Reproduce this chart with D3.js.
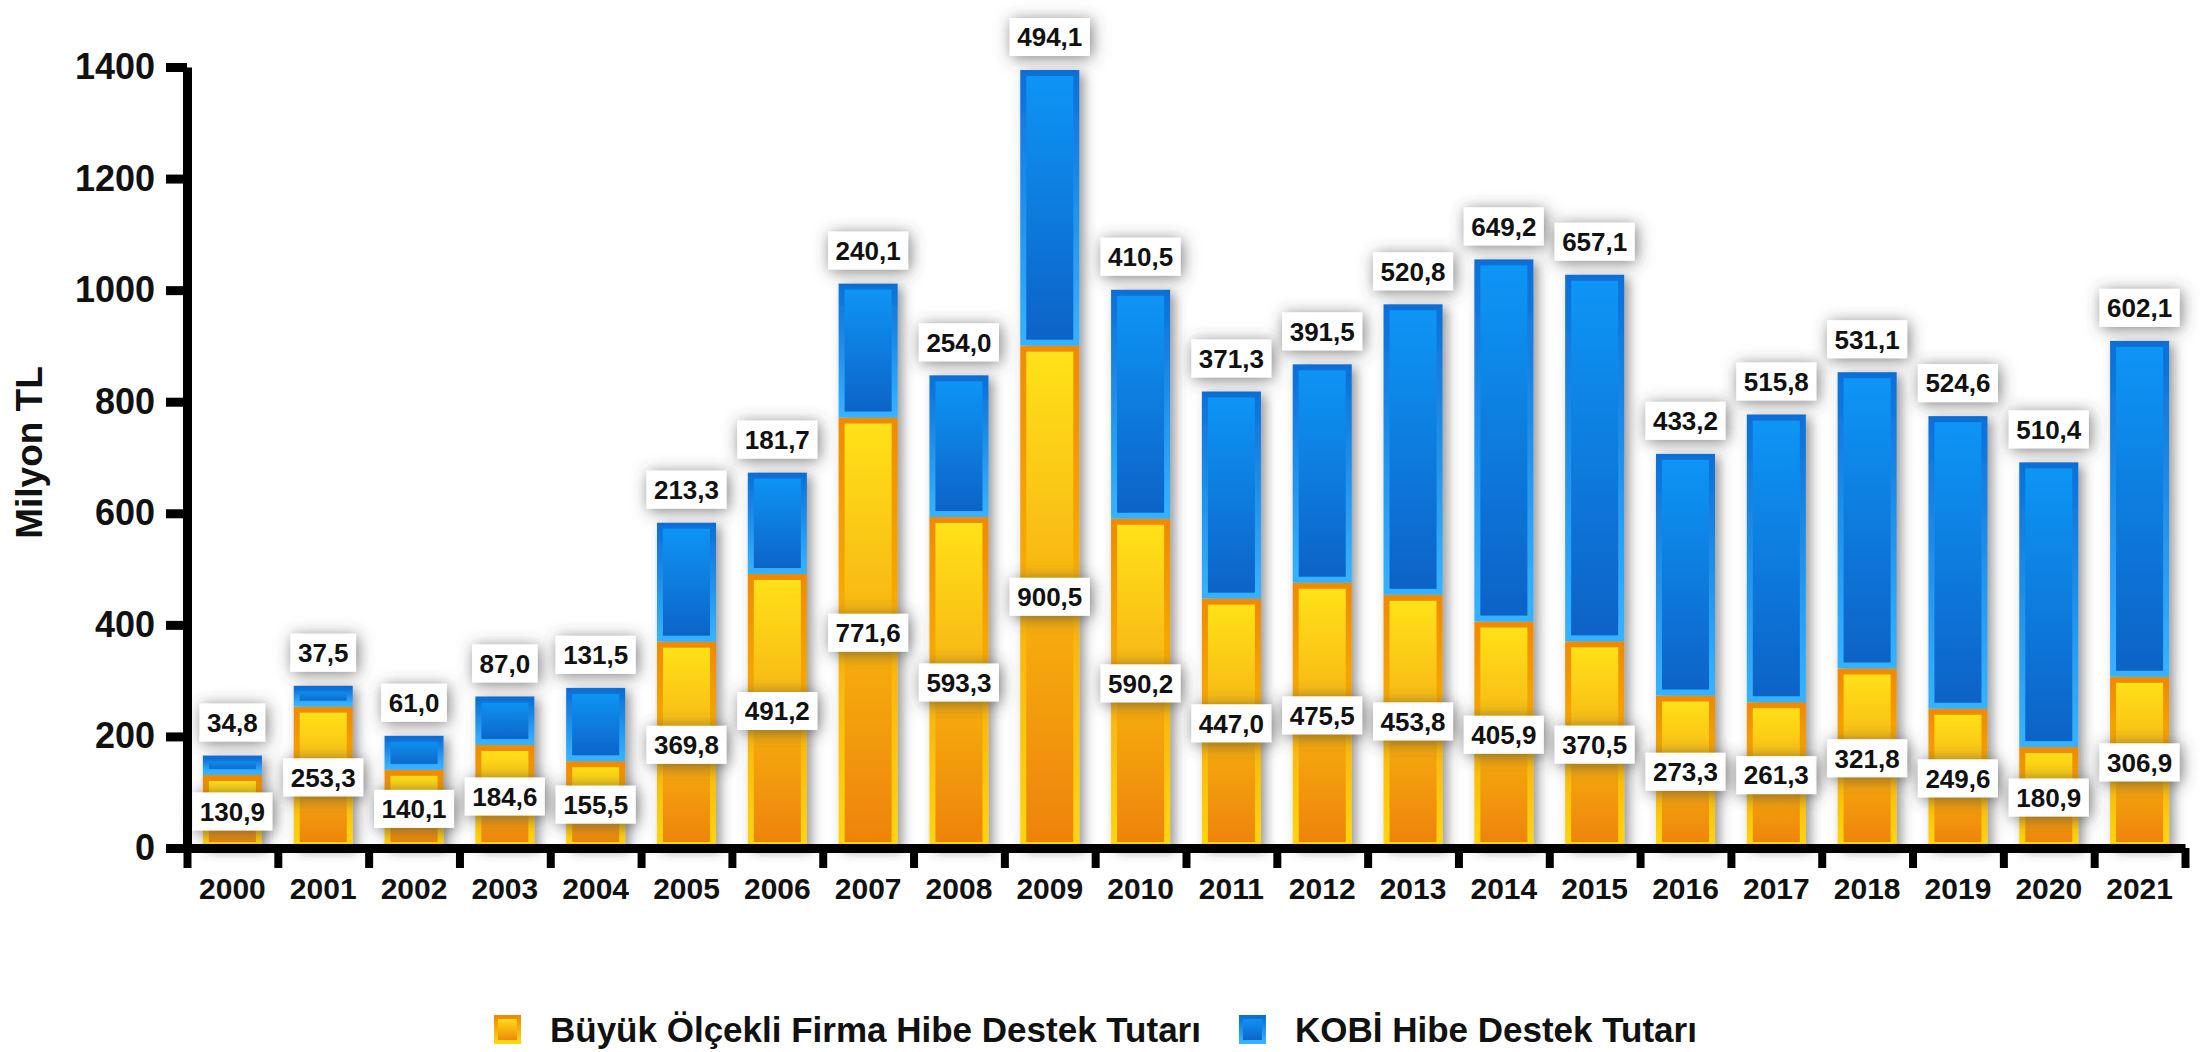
<!DOCTYPE html>
<html>
<head>
<meta charset="utf-8">
<script src="https://cdn.jsdelivr.net/npm/d3@7"></script>
<style>
  body { margin: 0; background: #fff; }
  svg { display: block; }
  text { font-family: "Liberation Sans", Arial, sans-serif; font-weight: bold; fill: #111; }
</style>
</head>
<body>
<svg id="chart" width="2208" height="1052"></svg>
<script>
// values (Milyon TL)
const years = ["2000","2001","2002","2003","2004","2005","2006","2007","2008","2009","2010",
               "2011","2012","2013","2014","2015","2016","2017","2018","2019","2020","2021"];
const buyukValues = [130.9, 253.3, 140.1, 184.6, 155.5, 369.8, 491.2, 771.6, 593.3, 900.5, 590.2,
                     447.0, 475.5, 453.8, 405.9, 370.5, 273.3, 261.3, 321.8, 249.6, 180.9, 306.9];
const kobiValues = [34.8, 37.5, 61.0, 87.0, 131.5, 213.3, 181.7, 240.1, 254.0, 494.1, 410.5,
                    371.3, 391.5, 520.8, 649.2, 657.1, 433.2, 515.8, 531.1, 524.6, 510.4, 602.1];
const yTicks = [0, 200, 400, 600, 800, 1000, 1200, 1400];
const seriesNames = ["Büyük Ölçekli Firma Hibe Destek Tutarı", "KOBİ Hibe Destek Tutarı"];
const yTitle = "Milyon TL";

const margin = {top: 67, right: 23, bottom: 204, left: 187};
const width = 2208, height = 1052;
const innerW = width - margin.left - margin.right;
const innerH = height - margin.top - margin.bottom;

const svg = d3.select("#chart");
const defs = svg.append("defs");

function grad(id, top, bottom) {
  const g = defs.append("linearGradient").attr("id", id)
    .attr("x1", 0).attr("y1", 0).attr("x2", 0).attr("y2", 1);
  g.append("stop").attr("offset", "0%").attr("stop-color", top);
  g.append("stop").attr("offset", "100%").attr("stop-color", bottom);
}
grad("yFill", "#ffe21a", "#ee8206");
grad("yStroke", "#f08a00", "#ffd60f");
grad("bFill", "#1196f6", "#0962c6");
grad("bStroke", "#0b70d8", "#36b2ff");

const shadow = defs.append("filter").attr("id", "shadow")
  .attr("x", "-40%").attr("y", "-40%").attr("width", "180%").attr("height", "180%");
shadow.append("feDropShadow").attr("dx", 5).attr("dy", 3).attr("stdDeviation", 6)
  .attr("flood-color", "#444").attr("flood-opacity", 0.55);

const boxShadow = defs.append("filter").attr("id", "boxShadow")
  .attr("x", "-50%").attr("y", "-80%").attr("width", "200%").attr("height", "260%");
boxShadow.append("feDropShadow").attr("dx", 2).attr("dy", 2).attr("stdDeviation", 8)
  .attr("flood-color", "#444").attr("flood-opacity", 0.7);

const data = years.map((y, i) => ({year: y, buyuk: buyukValues[i], kobi: kobiValues[i]}));
const stacked = d3.stack().keys(["buyuk", "kobi"])(data);

const x = d3.scaleBand().domain(years).range([0, innerW]).paddingInner(0.35).paddingOuter(0.175);
const y = d3.scaleLinear().domain([0, 1400]).range([innerH, 0]);

const fmt = d3.formatLocale({decimal: ",", thousands: ".", grouping: [3], currency: ["", ""]}).format(".1f");

const g = svg.append("g").attr("transform", `translate(${margin.left},${margin.top})`);

// bars
const sw = 6;
const fills = ["url(#yFill)", "url(#bFill)"];
const strokes = ["url(#yStroke)", "url(#bStroke)"];
const barG = g.append("g");
data.forEach((d, i) => {
  const col = barG.append("g").attr("filter", "url(#shadow)");
  stacked.forEach((s, k) => {
    const seg = s[i];
    col.append("rect")
      .attr("x", x(d.year) + sw / 2)
      .attr("width", x.bandwidth() - sw)
      .attr("y", y(seg[1]) + sw / 2)
      .attr("height", Math.max(0, y(seg[0]) - y(seg[1]) - sw))
      .attr("fill", fills[k])
      .attr("stroke", strokes[k])
      .attr("stroke-width", sw);
  });
});

// value labels
const labelG = g.append("g");
function label(cx, cy, txt) {
  const lg = labelG.append("g");
  const rect = lg.append("rect").attr("fill", "#fff").attr("filter", "url(#boxShadow)");
  const t = lg.append("text").attr("x", cx).attr("y", cy).attr("dy", "0.36em")
    .attr("text-anchor", "middle").attr("font-size", 26).text(txt);
  const w = t.node().getComputedTextLength() + 15;
  rect.attr("x", cx - w / 2).attr("y", cy - 19).attr("width", w).attr("height", 38);
}
data.forEach((d, i) => {
  const cx = x(d.year) + x.bandwidth() / 2;
  label(cx, y(d.buyuk / 2), fmt(d.buyuk));
  label(cx, y(d.buyuk + d.kobi) - 33, fmt(d.kobi));
});

// y axis
const yAxis = g.append("g")
  .call(d3.axisLeft(y).tickValues(yTicks).tickFormat(d3.format("d"))
    .tickSize(21).tickSizeOuter(0).tickPadding(11));
yAxis.select(".domain").attr("stroke", "#000").attr("stroke-width", 9);
yAxis.selectAll(".tick line").attr("stroke", "#000").attr("stroke-width", 9);
yAxis.selectAll(".tick text").attr("font-size", 36).attr("fill", "#111");

// x axis: labels at band centres, ticks at band edges
const edge = d3.scaleLinear().domain([0, years.length]).range([0, innerW]);
const xEdges = g.append("g").attr("transform", `translate(0,${innerH})`)
  .call(d3.axisBottom(edge).tickValues(d3.range(0, years.length + 1)).tickSize(20).tickSizeOuter(0).tickFormat(""));
xEdges.select(".domain").attr("stroke", "#000").attr("stroke-width", 9);
xEdges.selectAll(".tick line").attr("stroke", "#000").attr("stroke-width", 8);

const xAxis = g.append("g").attr("transform", `translate(0,${innerH})`)
  .call(d3.axisBottom(x).tickSize(0).tickPadding(30));
xAxis.select(".domain").remove();
xAxis.selectAll(".tick text").attr("font-size", 30).attr("fill", "#111");

// y title
svg.append("text")
  .attr("transform", `translate(42,${margin.top + innerH / 2 - 5}) rotate(-90)`)
  .attr("text-anchor", "middle").attr("font-size", 37).text(yTitle);

// legend
const legend = svg.append("g").attr("transform", "translate(494,1015)");
let lx = 0;
seriesNames.forEach((name, k) => {
  const item = legend.append("g").attr("transform", `translate(${lx},0)`);
  item.append("rect").attr("x", 2).attr("y", 2).attr("width", 23).attr("height", 25)
    .attr("fill", fills[k]).attr("stroke", strokes[k]).attr("stroke-width", 4);
  const t = item.append("text").attr("x", 56).attr("y", 14).attr("dy", "0.36em")
    .attr("font-size", 35).text(name);
  lx += 56 + t.node().getComputedTextLength() + 38;
});
</script>
</body>
</html>
